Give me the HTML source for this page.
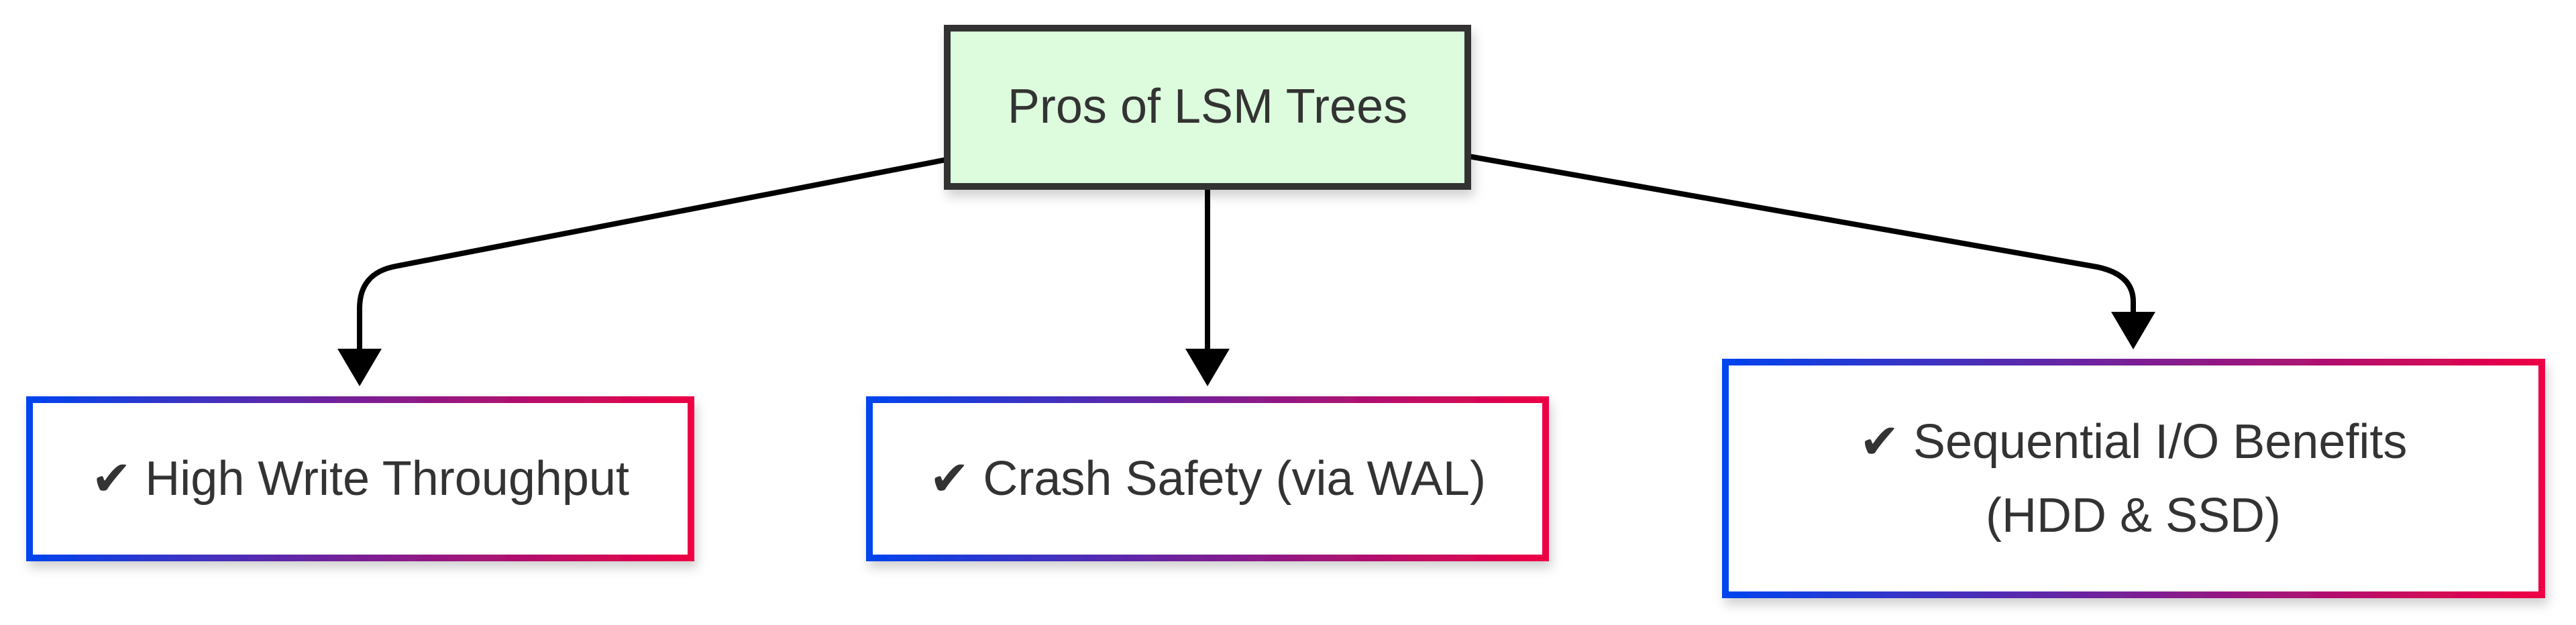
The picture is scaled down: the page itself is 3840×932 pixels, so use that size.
<!DOCTYPE html>
<html><head><meta charset="utf-8"><style>
html,body{margin:0;padding:0;background:#fff;}
svg{display:block;}
text{font-family:"Liberation Sans","DejaVu Sans",sans-serif;fill:#333;font-size:72px;}
</style></head><body>
<svg width="3840" height="932" viewBox="0 0 3840 932" xmlns="http://www.w3.org/2000/svg">
<defs>
<linearGradient id="g" x1="0" y1="0" x2="1" y2="0">
<stop offset="0" stop-color="#0044ee"/><stop offset="0.5" stop-color="#7a1f95"/><stop offset="1" stop-color="#ee0044"/>
</linearGradient>
<filter id="sh" x="-10%" y="-10%" width="120%" height="130%">
<feDropShadow dx="4" dy="10" stdDeviation="8" flood-color="#000" flood-opacity="0.18"/>
</filter>
</defs>
<!-- connectors -->
<g fill="none" stroke="#000" stroke-width="8">
<path d="M1411 238 L590 397 Q536 407 536 460 L536 525"/>
<path d="M1800 283 L1800 525"/>
<path d="M2189 233 L3120 397 Q3180 407 3180 450 L3180 470"/>
</g>
<g fill="#000">
<polygon points="503,520 569,520 536,576"/>
<polygon points="1767,520 1833,520 1800,576"/>
<polygon points="3147,465 3213,465 3180,521"/>
</g>
<!-- top node -->
<rect x="1412" y="42" width="776" height="236" fill="#ddfbdd" stroke="#333" stroke-width="10" filter="url(#sh)"/>
<text x="1800" y="183" text-anchor="middle">Pros of LSM Trees</text>
<!-- children -->
<rect x="44" y="596" width="986" height="236" fill="#fff" stroke="url(#g)" stroke-width="10" filter="url(#sh)"/>
<text x="537" y="738" text-anchor="middle">✔ High Write Throughput</text>
<rect x="1296" y="596" width="1008" height="236" fill="#fff" stroke="url(#g)" stroke-width="10" filter="url(#sh)"/>
<text x="1800" y="738" text-anchor="middle">✔ Crash Safety (via WAL)</text>
<rect x="2572" y="540" width="1217" height="347" fill="#fff" stroke="url(#g)" stroke-width="10" filter="url(#sh)"/>
<text x="3180" y="683" text-anchor="middle">✔ Sequential I/O Benefits</text>
<text x="3180" y="793" text-anchor="middle">(HDD &amp; SSD)</text>
</svg>
</body></html>
